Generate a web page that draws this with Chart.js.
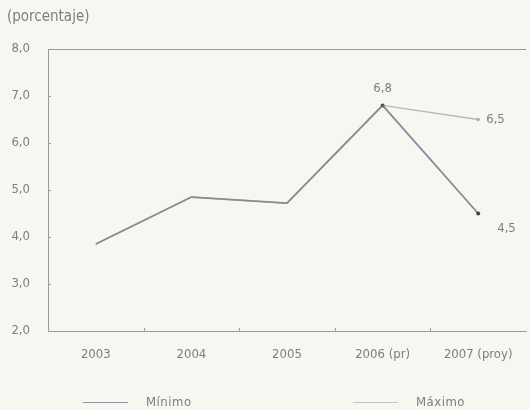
<!DOCTYPE html>
<html lang="es">
<head>
  <meta charset="UTF-8" />
  <title>porcentaje</title>
  <style>
    body {
      margin: 0;
      background-color: #f7f7f2;
      font-family: "Liberation Sans Narrow", "DejaVu Sans Condensed", Arial, sans-serif;
      color: #7d7d7d;
    }
    #wrap {
      position: relative;
      width: 530px;
      height: 410px;
    }
    canvas { display: block; }
    #title {
      position: absolute;
      left: 7px;
      top: 7px;
      font-size: 15px;
    }
    .leg {
      position: absolute;
      top: 394px;
      font-size: 13px;
      letter-spacing: 0.5px;
    }
    .leg span {
      display: inline-block;
      width: 45px;
      height: 0;
      vertical-align: middle;
      margin-right: 18px;
    }
  </style>
  <script src="https://cdnjs.cloudflare.com/ajax/libs/Chart.js/4.4.1/chart.umd.min.js"></script>
</head>
<body>
  <div id="wrap">
    <canvas id="chart" width="530" height="410"></canvas>
    <div id="title">(porcentaje)</div>
    <div class="leg" style="left:83px"><span style="border-top:1.5px solid #8b95a6"></span>Mínimo</div>
    <div class="leg" style="left:353px"><span style="border-top:1px solid #c4c4c4"></span>Máximo</div>
  </div>

  <script>
    const years = ["2003", "2004", "2005", "2006 (pr)", "2007 (proy)"];
    const minimo = [3.85, 4.85, 4.72, 6.8, 4.5];
    const maximo = [3.85, 4.85, 4.72, 6.8, 6.5];
    const yTicks = [2, 3, 4, 5, 6, 7, 8];

    const comma = v => v.toFixed(1).replace(".", ",");
    const fontFam = '"Liberation Sans Narrow", "DejaVu Sans Condensed", sans-serif';

    // small inner tick marks + value labels
    const extras = {
      id: "extras",
      afterDraw(chart) {
        const c = chart.ctx;
        const x = chart.scales.x, y = chart.scales.y;
        const a = chart.chartArea;
        c.save();
        c.strokeStyle = "#999";
        c.lineWidth = 1;
        yTicks.forEach(v => {
          const py = Math.round(y.getPixelForValue(v)) + 0.5;
          c.beginPath(); c.moveTo(a.left, py); c.lineTo(a.left + 3, py); c.stroke();
        });
        for (let i = 1; i < years.length; i++) {
          const px = Math.round((x.getPixelForValue(i - 1) + x.getPixelForValue(i)) / 2) + 0.5;
          c.beginPath(); c.moveTo(px, a.bottom); c.lineTo(px, a.bottom - 3); c.stroke();
        }
        c.fillStyle = "#7d7d7d";
        c.font = "13px " + fontFam;
        c.textBaseline = "middle";
        c.textAlign = "center";
        c.fillText(comma(maximo[3]), x.getPixelForValue(3), y.getPixelForValue(maximo[3]) - 17);
        c.textAlign = "left";
        c.fillText(comma(maximo[4]), x.getPixelForValue(4) + 8, y.getPixelForValue(maximo[4]));
        c.fillText(comma(minimo[4]), x.getPixelForValue(4) + 19, y.getPixelForValue(minimo[4]) + 15);
        c.restore();
      }
    };

    new Chart(document.getElementById("chart"), {
      type: "line",
      data: {
        labels: years,
        datasets: [
          {
            label: "Máximo",
            data: maximo,
            borderColor: "rgba(140,140,140,0.6)",
            backgroundColor: "#b0b0b0",
            borderWidth: 1.4,
            pointRadius: [0, 0, 0, 0, 1.8],
            pointBorderWidth: 0,
            tension: 0
          },
          {
            label: "Mínimo",
            data: minimo,
            borderColor: "rgba(85,98,122,0.72)",
            backgroundColor: "#3f444c",
            borderWidth: 1.8,
            pointRadius: [0, 0, 0, 2, 2],
            pointBorderWidth: 0,
            tension: 0
          }
        ]
      },
      options: {
        responsive: false,
        animation: false,
        layout: { padding: { top: 49, right: 4, bottom: 34, left: 0 } },
        plugins: { legend: { display: false }, tooltip: { enabled: false } },
        scales: {
          x: {
            offset: true,
            afterFit: s => { s.height = 45; },
            grid: { display: false },
            border: { display: true, color: "#999", width: 1 },
            ticks: {
              color: "#7d7d7d",
              padding: 8,
              maxRotation: 0,
              autoSkip: false,
              font: { family: fontFam, size: 13 }
            }
          },
          y: {
            min: 2,
            max: 8,
            afterFit: s => { s.width = 48; },
            afterBuildTicks: s => { s.ticks = yTicks.map(v => ({ value: v })); },
            grid: {
              drawTicks: false,
              color: c => (c.tick && c.tick.value === 8 ? "#999" : "transparent")
            },
            border: { display: true, color: "#999", width: 1 },
            ticks: {
              color: "#7d7d7d",
              padding: 18,
              callback: v => comma(v),
              font: { family: fontFam, size: 13 }
            }
          }
        }
      },
      plugins: [extras]
    });
  </script>
</body>
</html>
